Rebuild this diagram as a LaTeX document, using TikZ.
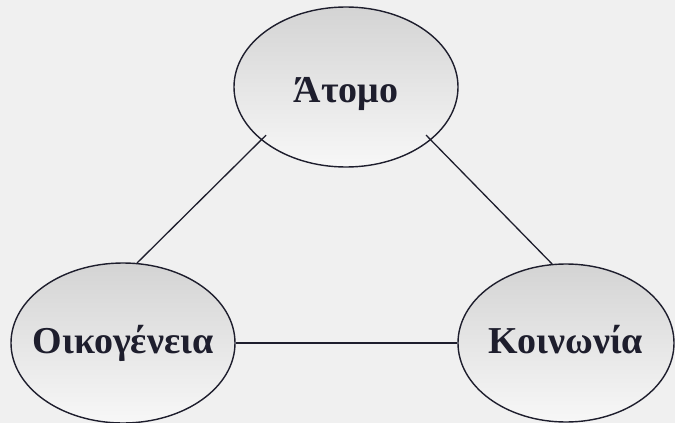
\documentclass[tikz,border=0pt]{standalone}
\usepackage{fontspec}
\setmainfont{Liberation Serif}
\usepackage{tikz}
\usetikzlibrary{shapes.geometric}
\definecolor{ink}{RGB}{30, 30, 45}
\definecolor{paper}{RGB}{240, 240, 240}

% word set with no size, baseline lowered by #1
\newcommand{\bubbleword}[2]{\makebox[0pt]{\raisebox{-#1}[0pt][0pt]{#2}}}

\begin{document}
\begin{tikzpicture}[x=1pt, y=-1pt, thick]
  \fill[color=paper] (0, 0) rectangle (675, 423);
  \useasboundingbox (0, 0) rectangle (675, 423);

  \tikzset{bubble/.style={ellipse, draw=ink, line width=1.4pt, inner sep=0pt,
                          top color=black!17, bottom color=white!97!black,
                          text=ink, font=\fontsize{38}{44}\selectfont\bfseries,
                          minimum width=224pt, minimum height=160pt}}

  \node[bubble] (atomo) at (346, 87) {\bubbleword{15pt}{Άτομο}};
  \node[bubble] (oikog) at (123, 343) {\bubbleword{10pt}{Οικογένεια}};
  \node[bubble, minimum width=216pt, minimum height=158pt] (koinon) at (566, 343) {\bubbleword{10pt}{Κοινωνία}};

  \draw[color=ink, line width=1.3pt, shorten >=-7pt] (oikog.80) -- (atomo.-148);
  \draw[color=ink, line width=1.3pt, shorten >=-7pt] (koinon.100) -- (atomo.-32);
  \draw[color=ink, line width=1.3pt] (oikog.east) -- (koinon.west);
\end{tikzpicture}
\end{document}
